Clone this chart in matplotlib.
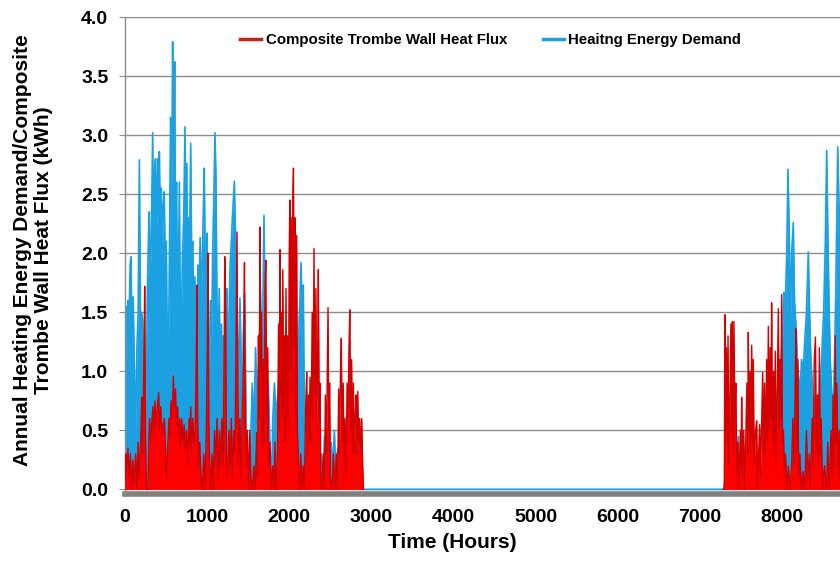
import numpy as np
import matplotlib
matplotlib.use("Agg")
import matplotlib.pyplot as plt
from matplotlib.lines import Line2D

plt.rcParams['font.family'] = ['Liberation Sans', 'DejaVu Sans']
plt.rcParams['font.weight'] = 'bold'

# heating demand (hour, kWh) - peaks and troughs
blue_hours = [0, 10, 22, 35, 50, 62, 73, 85, 100, 115, 130, 145, 160, 175, 190, 200, 215, 230, 245, 260,
              275, 288, 296, 305, 320, 337, 348, 360, 372, 385, 400, 410, 418, 430, 442, 455, 465, 478, 490, 503,
              515, 525, 540, 548, 556, 568, 580, 592, 605, 615, 628, 640, 650, 662, 672, 685, 700, 715, 731, 740,
              750, 762, 775, 787, 800, 812, 825, 838, 850, 862, 875, 890, 903, 915, 928, 940, 952, 966, 978, 990,
              1000, 1012, 1025, 1040, 1055, 1068, 1080, 1096, 1108, 1120, 1135, 1148, 1162, 1175, 1188, 1200, 1215, 1228, 1240, 1252,
              1265, 1280, 1295, 1308, 1320, 1332, 1345, 1358, 1370, 1385, 1400, 1412, 1425, 1440, 1455, 1468, 1480, 1495, 1510, 1530,
              1550, 1570, 1590, 1610, 1630, 1650, 1670, 1693, 1710, 1725, 1745, 1765, 1785, 1800, 1820, 1840, 1860, 1880, 1900, 1920,
              1940, 1960, 1980, 2000, 2020, 2040, 2060, 2080, 2100, 2120, 2144, 2160, 2172, 2185, 2195, 2210, 2230, 2250, 2270, 2290,
              2310, 2330, 2350, 2370, 2390, 2410, 2430, 2450, 2470, 2490, 2510, 2530, 2550, 2570, 2590, 2610, 2630, 2650, 2670, 2690,
              2710, 2730, 2750, 2770, 2790, 2810, 2830, 2850, 2870, 2890, 2905, 7290,
              7310, 7330, 7350, 7370, 7390, 7410, 7430, 7450, 7470, 7490, 7510, 7530, 7560, 7592, 7610, 7640, 7660, 7690, 7720, 7745,
              7770, 7790, 7810, 7830, 7850, 7870, 7890, 7910, 7930, 7950, 7970, 7990, 8010, 8025, 8040, 8060, 8075, 8090, 8105, 8120,
              8140, 8155, 8173, 8190, 8210, 8222, 8240, 8260, 8283, 8300, 8323, 8335, 8350, 8370, 8390, 8410, 8430, 8450, 8470, 8490,
              8510, 8530, 8547, 8560, 8575, 8590, 8610, 8628, 8645, 8660, 8681, 8700, 8720, 8740, 8760]
blue_vals = [0.9, 1.55, 1.1, 1.6, 1.4, 1.9, 1.97, 1.3, 1.63, 1.0, 0.5, 1.2, 1.5, 2.79, 1.3, 1.5, 1.44, 0.8, 0.6, 1.0,
             1.8, 2.2, 2.35, 1.8, 2.1, 3.02, 2.0, 2.7, 2.8, 2.2, 2.8, 2.3, 2.86, 2.3, 2.55, 2.0, 2.4, 2.52, 1.9, 2.1,
             1.2, 0.9, 1.9, 2.6, 3.15, 2.3, 3.79, 2.8, 3.62, 2.2, 2.6, 1.5, 1.7, 2.6, 1.6, 1.4, 2.0, 2.3, 3.07, 2.2,
             2.76, 2.0, 2.3, 2.1, 2.93, 2.0, 2.1, 1.5, 1.8, 1.6, 1.4, 1.9, 1.7, 2.13, 1.6, 1.9, 2.3, 2.72, 1.8, 1.5,
             2.17, 1.2, 0.9, 1.6, 1.3, 2.0, 2.4, 3.02, 2.65, 1.6, 1.2, 1.7, 0.8, 1.4, 0.9, 1.3, 1.1, 1.5, 1.7, 1.1,
             1.4, 1.9, 2.1, 2.3, 2.45, 2.61, 2.2, 1.7, 1.3, 0.9, 1.62, 1.2, 0.5, 1.3, 1.66, 1.0, 0.4, 0.1, 0.0, 0.4,
             0.9, 0.5, 1.2, 0.7, 1.1, 1.7, 1.0, 2.32, 1.3, 0.8, 0.9, 0.4, 0.0, 0.6, 0.9, 0.6, 0.8, 1.0, 1.27, 0.8,
             1.1, 0.7, 1.0, 0.8, 1.1, 0.7, 0.9, 0.6, 1.0, 1.4, 1.92, 1.5, 1.73, 0.6, 0.0, 0.3, 0.5, 0.2, 0.48, 0.1,
             0.4, 0.2, 0.47, 0.0, 0.3, 0.1, 0.45, 0.0, 0.3, 0.1, 0.4, 0.2, 0.5, 0.1, 0.35, 0.0, 0.4, 0.2, 0.3, 0.0,
             0.4, 0.1, 0.35, 0.1, 0.3, 0.2, 0.4, 0.1, 0.2, 0.05, 0.0, 0.0,
             0.1, 0.45, 0.1, 0.5, 0.2, 0.3, 0.0, 0.2, 0.45, 0.1, 0.2, 0.0, 0.15, 0.35, 0.1, 0.2, 0.0, 0.1, 0.2, 0.05,
             0.3, 0.5, 0.3, 0.6, 0.4, 0.7, 0.5, 0.8, 0.6, 0.9, 0.7, 1.1, 1.3, 1.67, 1.5, 2.0, 2.71, 2.2, 1.4, 2.0,
             2.26, 1.6, 1.38, 1.1, 0.9, 0.8, 1.1, 1.0, 1.3, 1.5, 2.01, 1.6, 1.2, 0.9, 0.6, 0.8, 0.4, 0.7, 0.9, 1.2,
             1.5, 2.1, 2.87, 2.2, 1.6, 1.1, 0.8, 0.7, 1.2, 1.8, 2.9, 2.3, 1.5, 1.0, 0.8]

# composite trombe wall heat flux, jan-apr
red1_hours = [0, 8, 20, 35, 50, 65, 80, 95, 110, 130, 145, 160, 175, 195, 205, 215, 232, 240, 250, 262,
              280, 290, 300, 312, 325, 340, 350, 365, 380, 395, 410, 420, 435, 450, 465, 480, 495, 507, 520, 535,
              548, 560, 575, 589, 600, 615, 625, 640, 652, 665, 678, 690, 705, 720, 735, 750, 765, 780, 790, 800,
              812, 825, 840, 855, 868, 876, 885, 895, 910, 925, 940, 960, 975, 990, 1003, 1010, 1020, 1032, 1045, 1060,
              1075, 1090, 1105, 1120, 1135, 1150, 1165, 1180, 1195, 1208, 1215, 1225, 1235, 1250, 1265, 1280, 1295, 1310, 1325, 1340,
              1355, 1364, 1374, 1385, 1400, 1415, 1430, 1445, 1455, 1465, 1478, 1490, 1505, 1520, 1532, 1550, 1570, 1585, 1604, 1615,
              1625, 1635, 1644, 1652, 1662, 1672, 1685, 1695, 1705, 1715, 1725, 1738, 1748, 1766, 1780, 1800, 1815, 1827, 1840, 1858,
              1870, 1880, 1888, 1897, 1905, 1914, 1922, 1932, 1942, 1950, 1961, 1970, 1980, 1990, 2000, 2008, 2016, 2025, 2035, 2045,
              2052, 2060, 2070, 2078, 2091, 2100, 2110, 2125, 2140, 2155, 2170, 2185, 2200, 2213, 2222, 2235, 2245, 2253, 2265, 2280,
              2290, 2302, 2312, 2325, 2335, 2347, 2355, 2365, 2375, 2385, 2400, 2415, 2430, 2440, 2452, 2465, 2473, 2482, 2492, 2502,
              2520, 2538, 2555, 2575, 2590, 2602, 2612, 2625, 2635, 2645, 2658, 2668, 2680, 2692, 2705, 2715, 2728, 2738, 2748, 2760,
              2770, 2782, 2792, 2803, 2814, 2824, 2835, 2845, 2858, 2870, 2883, 2895, 2905]
red1_vals = [0.0, 0.3, 0.15, 0.35, 0.1, 0.3, 0.0, 0.25, 0.05, 0.3, 0.0, 0.4, 0.1, 0.5, 0.78, 0.3, 1.2, 1.72, 0.4, 0.0,
             0.0, 0.4, 0.6, 0.4, 0.55, 0.7, 0.45, 0.75, 0.55, 0.7, 0.82, 0.5, 0.7, 0.45, 0.55, 0.6, 0.3, 0.1, 0.35, 0.6,
             0.45, 0.75, 0.6, 0.96, 0.7, 0.85, 0.55, 0.7, 0.45, 0.6, 0.35, 0.6, 0.4, 0.55, 0.35, 0.5, 0.2, 0.6, 0.4, 0.7,
             0.3, 0.6, 0.4, 0.5, 1.1, 1.73, 0.6, 0.2, 0.4, 0.1, 0.0, 0.3, 0.0, 0.5, 1.2, 2.0, 0.6, 0.2, 0.0, 0.3,
             0.0, 0.5, 0.2, 0.6, 0.1, 0.5, 0.2, 0.6, 0.2, 1.2, 1.97, 1.55, 0.3, 0.1, 0.5, 0.2, 0.6, 0.1, 0.5, 0.3,
             1.5, 2.18, 0.8, 0.2, 0.6, 0.1, 0.7, 1.1, 1.92, 0.6, 0.2, 0.5, 0.0, 0.5, 0.1, 0.0, 0.2, 0.0, 0.48, 0.1,
             1.3, 0.6, 2.22, 1.0, 1.5, 0.3, 1.1, 0.4, 1.7, 1.94, 0.6, 1.2, 0.2, 0.4, 0.0, 0.2, 0.0, 0.4, 0.0, 0.3,
             1.4, 0.5, 2.03, 0.8, 1.5, 0.6, 1.86, 0.7, 1.3, 0.4, 1.7, 0.6, 1.3, 0.5, 2.0, 2.45, 1.0, 2.3, 0.8, 2.5,
             2.72, 1.2, 2.3, 0.6, 2.15, 0.5, 0.3, 0.0, 0.3, 0.0, 0.2, 0.0, 0.7, 0.99, 0.3, 0.8, 0.4, 0.95, 0.4, 1.5,
             0.6, 2.04, 0.8, 1.7, 0.5, 1.2, 1.86, 0.6, 0.9, 0.1, 0.0, 0.3, 0.0, 0.8, 0.3, 1.1, 1.54, 0.5, 0.9, 0.1,
             0.0, 0.3, 0.0, 0.3, 0.0, 0.85, 0.3, 1.0, 1.28, 0.4, 0.9, 0.2, 0.6, 0.1, 0.9, 0.4, 1.2, 1.52, 0.5, 1.1,
             0.3, 0.9, 0.3, 0.6, 0.8, 0.3, 0.83, 0.4, 0.6, 0.3, 0.6, 0.2, 0.0]

# composite trombe wall heat flux, nov-dec
red2_hours = [7290, 7300, 7306, 7314, 7325, 7335, 7345, 7355, 7368, 7380, 7390, 7398, 7408, 7418, 7428, 7440, 7452, 7465, 7480, 7495,
              7505, 7511, 7520, 7535, 7548, 7560, 7575, 7585, 7592, 7602, 7612, 7622, 7633, 7643, 7653, 7663, 7680, 7694, 7705, 7718,
              7730, 7740, 7755, 7767, 7777, 7790, 7800, 7815, 7825, 7836, 7846, 7858, 7868, 7876, 7886, 7900, 7910, 7920, 7930, 7945,
              7958, 7968, 7978, 7988, 7998, 8008, 8020, 8032, 8045, 8060, 8080, 8100, 8120, 8135, 8150, 8165, 8173, 8183, 8195, 8205,
              8220, 8240, 8260, 8280, 8300, 8315, 8335, 8350, 8370, 8382, 8395, 8410, 8420, 8435, 8447, 8457, 8467, 8480, 8495, 8520,
              8545, 8560, 8575, 8600, 8612, 8625, 8640, 8650, 8660, 8670, 8685, 8700, 8715, 8740, 8760]
red2_vals = [0.0, 0.0, 1.48, 0.5, 1.2, 0.4, 1.3, 0.2, 0.8, 1.4, 0.5, 1.42, 0.3, 1.42, 0.6, 0.9, 0.1, 0.4, 0.0, 0.5,
             0.2, 0.78, 0.1, 0.5, 0.0, 0.4, 0.9, 0.3, 1.33, 0.5, 1.0, 0.3, 1.22, 0.4, 1.1, 0.2, 0.5, 0.58, 0.0, 0.3,
             0.55, 0.1, 0.6, 0.99, 0.3, 0.9, 0.2, 1.1, 0.4, 1.38, 0.5, 1.2, 0.6, 1.58, 0.4, 1.0, 0.3, 1.17, 0.2, 0.9,
             1.53, 0.5, 1.1, 0.6, 1.65, 0.4, 0.5, 0.1, 0.3, 0.0, 0.2, 0.0, 0.2, 0.6, 0.2, 1.0, 1.36, 0.3, 1.1, 0.1,
             0.3, 0.0, 0.15, 0.0, 0.5, 0.1, 0.3, 0.0, 0.6, 0.2, 1.1, 1.29, 0.3, 0.8, 0.2, 1.2, 0.3, 0.6, 0.0, 0.2,
             0.0, 0.4, 0.0, 0.5, 0.1, 0.8, 0.2, 1.3, 0.4, 0.9, 0.1, 0.5, 0.0, 0.6, 0.2]

blue_c = '#1ba1e2'
red_c = '#ff0000'
red_edge = '#d40000'

fig = plt.figure(figsize=(8.4, 5.67), dpi=100)
ax = fig.add_axes([125 / 840, 73.5 / 567, 719.2 / 840, 476.5 / 567])

ax.fill_between(blue_hours, 0, blue_vals, color=blue_c, lw=0, zorder=2)
ax.plot(blue_hours, blue_vals, color=blue_c, lw=1.2, zorder=2)
for h, v in [(red1_hours, red1_vals), (red2_hours, red2_vals)]:
    ax.fill_between(h, 0, v, color=red_c, lw=0, zorder=3)
    ax.plot(h, v, color=red_edge, lw=1.0, zorder=3)

ax.set_xlim(0, 8760)
ax.set_ylim(-0.035, 4.0)
ax.set_xticks(np.arange(0, 9000, 1000))
ax.set_yticks(np.arange(0, 4.01, 0.5))
ax.set_yticklabels(['%.1f' % t for t in np.arange(0, 4.01, 0.5)])
ax.yaxis.grid(True, color='#8c8c8c', lw=1.0, zorder=0)
ax.set_axisbelow(True)

for s in ['top', 'right']:
    ax.spines[s].set_visible(False)
ax.spines['left'].set_color('#8c8c8c')
ax.spines['left'].set_linewidth(1.0)
ax.spines['bottom'].set_color('#808080')
ax.spines['bottom'].set_linewidth(4)
ax.spines['bottom'].set_zorder(1)

ax.tick_params(axis='y', length=4, color='#8c8c8c', pad=8, labelsize=14)
ax.tick_params(axis='x', length=0, pad=11, labelsize=14)

fig.text(452 / 840, 1 - 543 / 567, 'Time (Hours)', ha='center', va='center', fontsize=15, fontweight='bold')
fig.text(33 / 840, 1 - 250 / 567, 'Annual Heating Energy Demand/Composite\nTrombe Wall Heat Flux (kWh)',
         ha='center', va='center', rotation=90, fontsize=15, fontweight='bold', linespacing=1.1)

handles = [Line2D([], [], color='#c8201e', lw=2.5), Line2D([], [], color=blue_c, lw=2.5)]
ax.legend(handles, ['Composite Trombe Wall Heat Flux', 'Heaitng Energy Demand'], ncol=2, frameon=False,
          loc='center left', bbox_to_anchor=(240 / 840, 1 - 40 / 567), bbox_transform=fig.transFigure,
          borderpad=0, borderaxespad=0, handlelength=1.4, handletextpad=0.3, columnspacing=2.4,
          prop={'size': 10.8, 'weight': 'bold'})

fig.savefig('out.png', dpi=100)
